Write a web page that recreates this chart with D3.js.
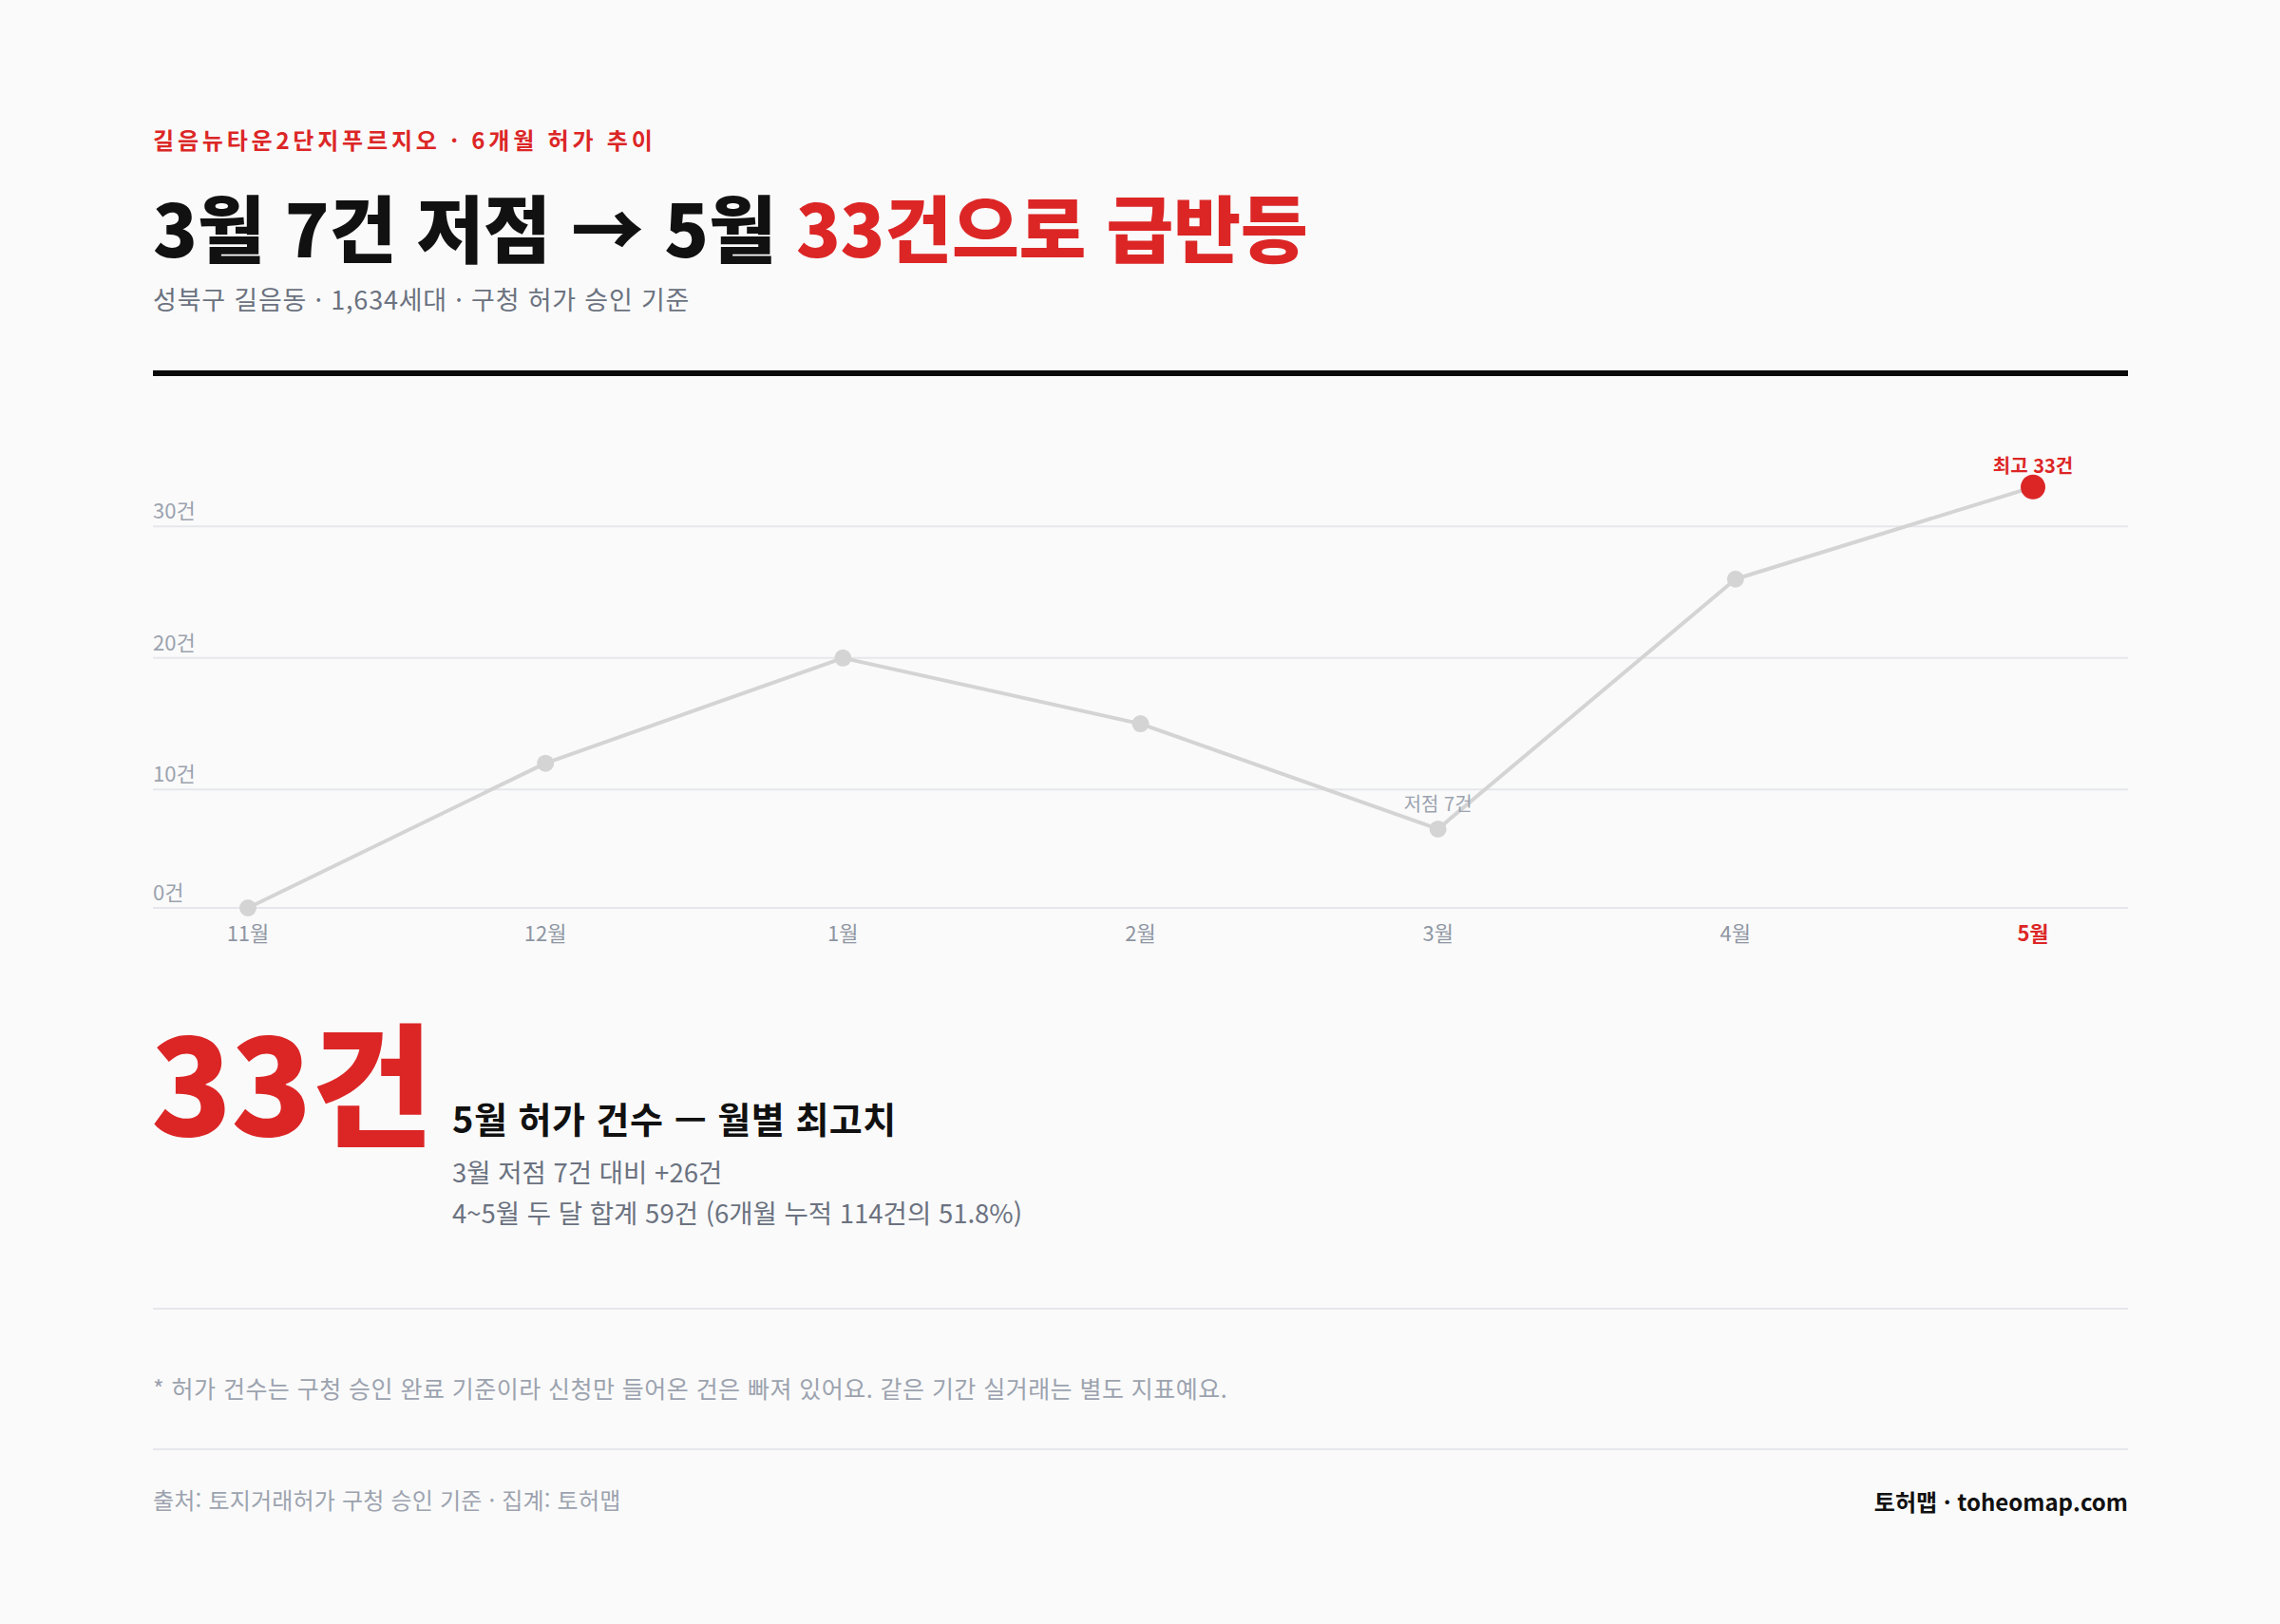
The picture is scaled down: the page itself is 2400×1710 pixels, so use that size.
<!DOCTYPE html>
<html lang="ko">
<head>
<meta charset="utf-8">
<script src="https://cdn.jsdelivr.net/npm/d3@7"></script>
<style>
  html, body { margin: 0; padding: 0; background: #fafafa; }
  svg { display: block; font-family: "Noto Sans CJK KR", "Noto Sans", sans-serif; }
</style>
</head>
<body>
<svg id="chart" width="2400" height="1710"></svg>
<script>
// ---- data ----
const months = ["11월", "12월", "1월", "2월", "3월", "4월", "5월"];
const permits = [1, 12, 20, 15, 7, 26, 33];
const yTicks = [0, 10, 20, 30];
const yTickLabels = ["0건", "10건", "20건", "30건"];

const kicker = "길음뉴타운2단지푸르지오 · 6개월 허가 추이";
const titleBlack = "3월 7건 저점 → 5월 ";
const titleRed = "33건으로 급반등";
const subhead = "성북구 길음동 · 1,634세대 · 구청 허가 승인 기준";
const bigNumber = "33건";
const statHead = "5월 허가 건수 — 월별 최고치";
const statLines = ["3월 저점 7건 대비 +26건", "4~5월 두 달 합계 59건 (6개월 누적 114건의 51.8%)"];
const footnote = "* 허가 건수는 구청 승인 완료 기준이라 신청만 들어온 건은 빠져 있어요. 같은 기간 실거래는 별도 지표예요.";
const source = "출처: 토지거래허가 구청 승인 기준 · 집계: 토허맵";
const brand = "토허맵 · toheomap.com";
const lowLabel = "저점 7건";
const highLabel = "최고 33건";

// ---- layout ----
const RED = "#dc2626";
const L = 161, R = 2240;
const svg = d3.select("#chart");
svg.append("rect").attr("width", 2400).attr("height", 1710).attr("fill", "#fafafa");

// header
svg.append("text").attr("x", L).attr("y", 157)
  .attr("fill", RED).attr("font-size", 24).attr("font-weight", 700)
  .attr("letter-spacing", 3.8).text(kicker);

const t = svg.append("text").attr("x", L).attr("y", 271)
  .attr("font-size", 77).attr("font-weight", 900).attr("letter-spacing", -0.2);
t.append("tspan").attr("fill", "#111111").text(titleBlack);
t.append("tspan").attr("fill", RED).text(titleRed);

svg.append("text").attr("x", L).attr("y", 326)
  .attr("fill", "#6b7280").attr("font-size", 27).attr("letter-spacing", 0.8).text(subhead);

svg.append("rect").attr("x", L).attr("y", 390).attr("width", R - L).attr("height", 6).attr("fill", "#0a0a0a");

// chart
const x = d3.scalePoint().domain(months).range([L + 100, R - 100]);
const yMin = d3.min(permits), yMax = d3.max(permits) * 1.1;
const y = d3.scaleLinear().domain([yMin, yMax]).range([956, 956 - (yMax - yMin) * 13.85]).clamp(true);

const grid = svg.append("g");
yTicks.forEach((v, i) => {
  const yy = y(v);
  grid.append("line").attr("x1", L).attr("x2", R).attr("y1", yy).attr("y2", yy)
    .attr("stroke", "#e5e7eb").attr("stroke-width", 2);
  grid.append("text").attr("x", L).attr("y", yy - 8)
    .attr("fill", "#9ca3af").attr("font-size", 22).text(yTickLabels[i]);
});

// x labels
months.forEach((m, i) => {
  const last = i === months.length - 1;
  svg.append("text").attr("x", x(m)).attr("y", 991).attr("text-anchor", "middle")
    .attr("fill", last ? RED : "#8f96a3").attr("font-size", 22)
    .attr("font-weight", last ? 700 : 400).text(m);
});

const data = months.map((m, i) => ({ m, v: permits[i] }));
const line = d3.line().x(d => x(d.m)).y(d => y(d.v));
svg.append("path").datum(data).attr("d", line)
  .attr("fill", "none").attr("stroke", "#d4d4d4").attr("stroke-width", 4).attr("stroke-linejoin", "round");

svg.selectAll("circle.pt").data(data).join("circle").attr("class", "pt")
  .attr("cx", d => x(d.m)).attr("cy", d => y(d.v))
  .attr("r", (d, i) => i === data.length - 1 ? 13 : 9)
  .attr("fill", (d, i) => i === data.length - 1 ? RED : "#d4d4d4");

// annotations
const lowIdx = permits.indexOf(d3.min(permits.slice(1)));
const hiIdx = permits.indexOf(d3.max(permits));
svg.append("text").attr("x", x(months[lowIdx])).attr("y", y(permits[lowIdx]) - 19)
  .attr("text-anchor", "middle").attr("fill", "#9ca3af").attr("font-size", 20).text(lowLabel);
svg.append("text").attr("x", x(months[hiIdx])).attr("y", y(permits[hiIdx]) - 15)
  .attr("text-anchor", "middle").attr("fill", RED).attr("font-size", 20).attr("font-weight", 700).text(highLabel);

// big stat
svg.append("text").attr("x", L - 2).attr("y", 1196)
  .attr("fill", RED).attr("font-size", 140).attr("font-weight", 900).attr("letter-spacing", -1).text(bigNumber);
svg.append("text").attr("x", 476).attr("y", 1193)
  .attr("fill", "#111111").attr("font-size", 38).attr("font-weight", 700).attr("letter-spacing", 0.5).text(statHead);
statLines.forEach((s, i) => {
  svg.append("text").attr("x", 476).attr("y", 1245 + i * 43)
    .attr("fill", "#6b7280").attr("font-size", 27.5).text(s);
});

// dividers + footer
[1378, 1526].forEach(yy => {
  svg.append("line").attr("x1", L).attr("x2", R).attr("y1", yy).attr("y2", yy)
    .attr("stroke", "#e5e7eb").attr("stroke-width", 2);
});
svg.append("text").attr("x", L).attr("y", 1472)
  .attr("fill", "#9ca3af").attr("font-size", 25).attr("letter-spacing", 0.45).text(footnote);
svg.append("text").attr("x", L).attr("y", 1589)
  .attr("fill", "#9ca3af").attr("font-size", 24).attr("letter-spacing", 0.2).text(source);
svg.append("text").attr("x", R).attr("y", 1591).attr("text-anchor", "end")
  .attr("fill", "#111111").attr("font-size", 24).attr("font-weight", 700).text(brand);
</script>
</body>
</html>
